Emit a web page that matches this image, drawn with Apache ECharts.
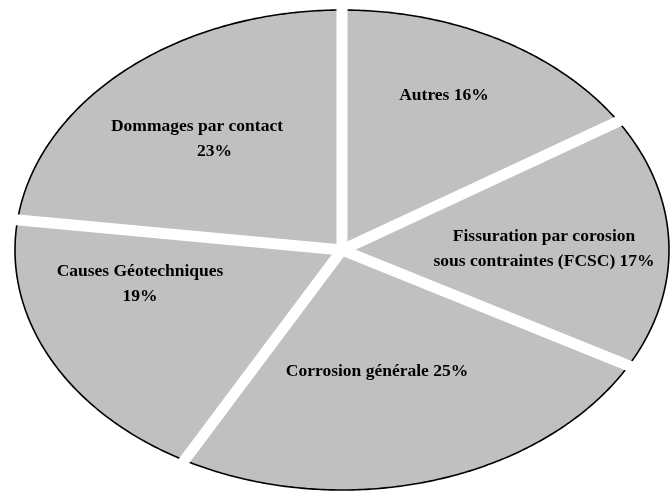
<!DOCTYPE html>
<html>
<head>
<meta charset="utf-8">
<script src="https://cdn.jsdelivr.net/npm/echarts@6/dist/echarts.min.js"></script>
<style>
  html, body { margin: 0; padding: 0; background: #fff; }
  #chart { width: 670px; height: 493px; }
</style>
</head>
<body>
<div id="chart"></div>
<script>
// categories, clockwise from the top
const categories = ['Autres', 'Fissuration par corosion sous contraintes (FCSC)', 'Corrosion générale', 'Causes Géotechniques', 'Dommages par contact'];
const values = [16, 17, 25, 19, 23];
const labelTexts = [
    'Autres 16%',
    'Fissuration par corosion\nsous contraintes (FCSC) 17%',
    'Corrosion générale 25%',
    'Causes Géotechniques\n19%',
    'Dommages par contact\n        23%'
];

// ellipse layout
const cx = 342, cy = 250, rx = 327, ry = 240;
// label anchors (text block centres)
const labelAt = [[444, 95], [544, 249], [377, 371], [140, 284], [197, 139]];

let chart = echarts.init(document.getElementById('chart'), null, {renderer: 'canvas'});
let total = values.reduce((a, b) => a + b, 0);

function pt(t, k) {
    return [cx + rx * k * Math.sin(t), cy - ry * k * Math.cos(t)];
}

let option = {
    animation: false,
    series: [{
        type: 'custom',
        coordinateSystem: 'none',
        silent: true,
        data: values.map((v, i) => ({name: categories[i], value: v})),
        renderItem: function (params, api) {
            let i = params.dataIndex;
            let before = 0;
            for (let j = 0; j < i; j++) before += values[j];
            let a0 = before / total * Math.PI * 2;
            let a1 = (before + api.value(0)) / total * Math.PI * 2;
            let n = Math.max(2, Math.ceil((a1 - a0) / 0.01));
            let arc = [];
            for (let k = 0; k <= n; k++) {
                arc.push(pt(a0 + (a1 - a0) * k / n, 1));
            }
            let end = pt(a0, 1.06);
            return {
                type: 'group',
                children: [{
                    type: 'polygon',
                    shape: {points: [[cx, cy]].concat(arc)},
                    style: {fill: '#c0c0c0'},
                    z2: 1
                }, {
                    type: 'polyline',
                    shape: {points: arc},
                    style: {stroke: '#000', lineWidth: 1.6, fill: null},
                    z2: 2
                }, {
                    type: 'line',
                    shape: {x1: cx, y1: cy, x2: end[0], y2: end[1]},
                    style: {stroke: '#fff', lineWidth: 11},
                    z2: 5
                }, {
                    type: 'text',
                    x: labelAt[i][0],
                    y: labelAt[i][1],
                    style: {
                        text: labelTexts[i],
                        fill: '#000',
                        fontFamily: '"Liberation Serif", "Times New Roman", serif',
                        fontWeight: 'bold',
                        fontSize: 17.5,
                        lineHeight: 25,
                        align: 'center',
                        verticalAlign: 'middle'
                    },
                    z2: 10
                }]
            };
        }
    }]
};
chart.setOption(option);
</script>
</body>
</html>
